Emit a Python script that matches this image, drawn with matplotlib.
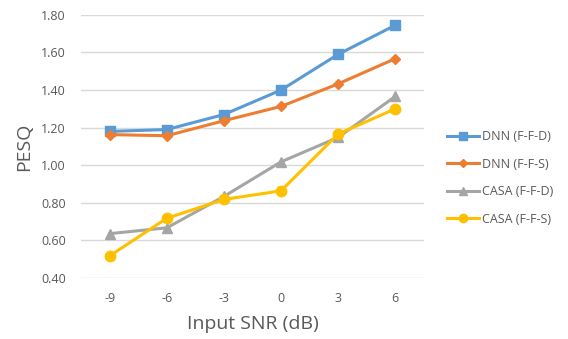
import numpy as np
import matplotlib.pyplot as plt

# PESQ vs input SNR
snr = ['-9', '-6', '-3', '0', '3', '6']
dnn_ffd = [1.18, 1.19, 1.27, 1.40, 1.59, 1.745]
dnn_ffs = [1.163, 1.157, 1.237, 1.313, 1.433, 1.567]
casa_ffd = [0.636, 0.667, 0.834, 1.018, 1.148, 1.366]
casa_ffs = [0.518, 0.718, 0.818, 0.864, 1.166, 1.30]

plt.rcParams['font.family'] = ['Open Sans', 'DejaVu Sans']

fig = plt.figure(figsize=(5.68, 3.39), dpi=100)
ax = fig.add_axes([0.143, 0.180, 0.603, 0.776])

x = np.arange(len(snr))
ax.plot(x, dnn_ffd, color='#5B9BD5', lw=2.2, marker='s', ms=7, label='DNN (F-F-D)')
ax.plot(x, dnn_ffs, color='#ED7D31', lw=2.2, marker='D', ms=5.5, label='DNN (F-F-S)')
ax.plot(x, casa_ffd, color='#A5A5A5', lw=2.2, marker='^', ms=7, label='CASA (F-F-D)')
ax.plot(x, casa_ffs, color='#FFC000', lw=2.2, marker='o', ms=7.5, label='CASA (F-F-S)')

ax.set_xlim(-0.5, 5.5)
ax.set_ylim(0.4, 1.8)
ax.set_xticks(x)
ax.set_xticklabels(snr)
ax.set_yticks(np.arange(0.4, 1.81, 0.2))
ax.set_yticklabels(['%.2f' % v for v in np.arange(0.4, 1.81, 0.2)])
ax.grid(axis='y', color='#D9D9D9', lw=1)
ax.set_axisbelow(True)
for s in ax.spines.values():
    s.set_visible(False)
ax.tick_params(length=0, labelsize=9, colors='#595959', pad=11)
ax.tick_params(axis='x', pad=10)

ax.set_xlabel('Input SNR (dB)', fontsize=14, color='#595959', labelpad=7)
ax.set_ylabel('PESQ', fontsize=14, color='#595959', labelpad=6)

ax.legend(loc='center left', bbox_to_anchor=(1.035, 0.38), frameon=False,
          fontsize=9, labelcolor='#595959', handlelength=2.6, markerscale=0.8,
          handletextpad=0.2, labelspacing=1.15)

plt.savefig('out.png')
